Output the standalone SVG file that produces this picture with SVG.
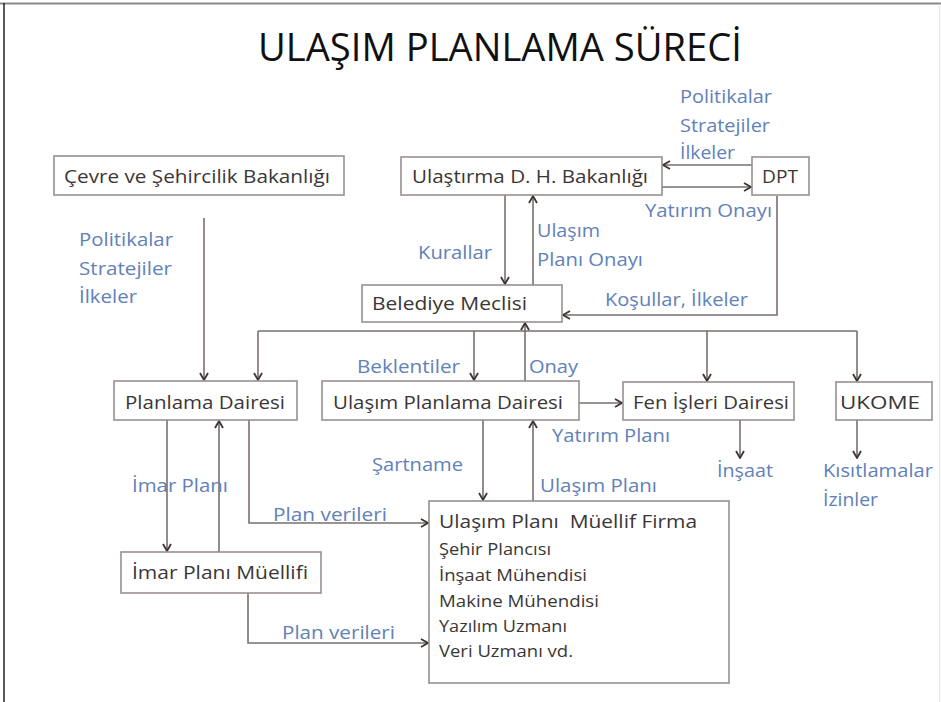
<svg xmlns="http://www.w3.org/2000/svg" width="941" height="702" viewBox="0 0 941 702">
<style>
.box{fill:#fff;stroke:#9a8f8f;stroke-width:1.6}
.nt{font-family:"Open Sans","Liberation Sans",sans-serif;font-size:17.5px;fill:#3a3636}
.st{font-family:"Open Sans","Liberation Sans",sans-serif;font-size:15.5px;fill:#3a3636}
.lb{font-family:"Open Sans","Liberation Sans",sans-serif;font-size:18px;fill:#6181b9}
.ln{fill:none;stroke:#7a6e6e;stroke-width:1.6}
.ar{marker-end:url(#ah)}
</style>
<defs>
<marker id="ah" viewBox="0 0 10 10" refX="9" refY="5" markerWidth="10" markerHeight="10" markerUnits="userSpaceOnUse" orient="auto">
<path d="M2,1 L9,5 L2,9" fill="none" stroke="#3d3535" stroke-width="1.8"/>
</marker>
</defs>
<rect width="941" height="702" fill="#fff"/>
<line x1="0" y1="3.5" x2="941" y2="3.5" stroke="#8a8a8a" stroke-width="2"/>
<line x1="4" y1="3" x2="4" y2="702" stroke="#222" stroke-width="1.5"/>
<line x1="939.5" y1="4" x2="939.5" y2="702" stroke="#e4e4e4" stroke-width="1"/>
<text x="258" y="61" font-family="Open Sans, Liberation Sans, sans-serif" font-size="38" fill="#111" textLength="484" lengthAdjust="spacingAndGlyphs">ULAŞIM PLANLAMA SÜRECİ</text>
<g id="connectors">
<line class="ln ar" x1="752" y1="165" x2="663" y2="165"/>
<line class="ln ar" x1="662" y1="187" x2="751" y2="187"/>
<polyline class="ln ar" points="777,196 777,315 563,315"/>
<line class="ln ar" x1="505" y1="195" x2="505" y2="284"/>
<line class="ln ar" x1="533" y1="285" x2="533" y2="196"/>
<line class="ln ar" x1="204" y1="218" x2="204" y2="380"/>
<polyline class="ln" points="258,331 857,331"/>
<line class="ln ar" x1="258" y1="331" x2="258" y2="380"/>
<line class="ln ar" x1="474" y1="331" x2="474" y2="380"/>
<line class="ln ar" x1="707" y1="331" x2="707" y2="381"/>
<line class="ln ar" x1="857" y1="331" x2="857" y2="381"/>
<line class="ln ar" x1="525" y1="381" x2="525" y2="323"/>
<line class="ln ar" x1="579" y1="403" x2="622" y2="403"/>
<line class="ln ar" x1="167" y1="420" x2="167" y2="551"/>
<line class="ln ar" x1="219" y1="552" x2="219" y2="421"/>
<polyline class="ln ar" points="249,420 249,523 428,523"/>
<polyline class="ln ar" points="248,593 248,643 428,643"/>
<line class="ln ar" x1="483" y1="420" x2="483" y2="500"/>
<line class="ln ar" x1="533" y1="501" x2="533" y2="421"/>
<line class="ln ar" x1="740" y1="420" x2="740" y2="458"/>
<line class="ln ar" x1="857" y1="420" x2="857" y2="458"/>
</g>
<g id="cevre"><rect class="box" x="54" y="156" width="290" height="39"/><text class="nt" x="64" y="183" textLength="266" lengthAdjust="spacingAndGlyphs">Çevre ve Şehircilik Bakanlığı</text></g>
<g id="ulastirma"><rect class="box" x="401" y="157" width="261" height="38"/><text class="nt" x="412" y="183" textLength="236" lengthAdjust="spacingAndGlyphs">Ulaştırma D. H. Bakanlığı</text></g>
<g id="dpt"><rect class="box" x="752" y="157" width="57" height="38"/><text class="nt" x="762" y="183" textLength="36" lengthAdjust="spacingAndGlyphs">DPT</text></g>
<g id="belediye"><rect class="box" x="362" y="285" width="200" height="37"/><text class="nt" x="372" y="310" textLength="155" lengthAdjust="spacingAndGlyphs">Belediye Meclisi</text></g>
<g id="planlama"><rect class="box" x="114" y="381" width="183" height="39"/><text class="nt" x="125" y="409" textLength="160" lengthAdjust="spacingAndGlyphs">Planlama Dairesi</text></g>
<g id="ulasimplanlama"><rect class="box" x="322" y="381" width="257" height="39"/><text class="nt" x="333" y="409" textLength="230" lengthAdjust="spacingAndGlyphs">Ulaşım Planlama Dairesi</text></g>
<g id="fen"><rect class="box" x="623" y="382" width="171" height="38"/><text class="nt" x="633" y="409" textLength="156" lengthAdjust="spacingAndGlyphs">Fen İşleri Dairesi</text></g>
<g id="ukome"><rect class="box" x="836" y="382" width="96" height="38"/><text class="nt" x="840" y="409" textLength="80" lengthAdjust="spacingAndGlyphs">UKOME</text></g>
<g id="imar"><rect class="box" x="121" y="552" width="200" height="41"/><text class="nt" x="132" y="579" textLength="176" lengthAdjust="spacingAndGlyphs">İmar Planı Müellifi</text></g>
<g id="firma"><rect class="box" x="429" y="501" width="300" height="182"/>
<text class="nt" x="439" y="528" font-size="19" textLength="258" lengthAdjust="spacingAndGlyphs" xml:space="preserve">Ulaşım Planı  Müellif Firma</text>
<text class="st" x="439" y="555" textLength="112" lengthAdjust="spacingAndGlyphs">Şehir Plancısı</text>
<text class="st" x="439" y="581" textLength="148" lengthAdjust="spacingAndGlyphs">İnşaat Mühendisi</text>
<text class="st" x="439" y="607" textLength="160" lengthAdjust="spacingAndGlyphs">Makine Mühendisi</text>
<text class="st" x="439" y="632" textLength="128" lengthAdjust="spacingAndGlyphs">Yazılım Uzmanı</text>
<text class="st" x="439" y="657" textLength="134" lengthAdjust="spacingAndGlyphs">Veri Uzmanı vd.</text>
</g>
<g id="labels">
<text class="lb" x="680" y="103" textLength="92" lengthAdjust="spacingAndGlyphs">Politikalar</text>
<text class="lb" x="680" y="132" textLength="90" lengthAdjust="spacingAndGlyphs">Stratejiler</text>
<text class="lb" x="680" y="159" textLength="55" lengthAdjust="spacingAndGlyphs">İlkeler</text>
<text class="lb" x="645" y="217" textLength="127" lengthAdjust="spacingAndGlyphs">Yatırım Onayı</text>
<text class="lb" x="418" y="259" textLength="74" lengthAdjust="spacingAndGlyphs">Kurallar</text>
<text class="lb" x="537" y="237" textLength="63" lengthAdjust="spacingAndGlyphs">Ulaşım</text>
<text class="lb" x="537" y="266" textLength="106" lengthAdjust="spacingAndGlyphs">Planı Onayı</text>
<text class="lb" x="605" y="306" textLength="143" lengthAdjust="spacingAndGlyphs">Koşullar, İlkeler</text>
<text class="lb" x="357" y="373" textLength="103" lengthAdjust="spacingAndGlyphs">Beklentiler</text>
<text class="lb" x="529" y="373" textLength="49" lengthAdjust="spacingAndGlyphs">Onay</text>
<text class="lb" x="79" y="246" textLength="94" lengthAdjust="spacingAndGlyphs">Politikalar</text>
<text class="lb" x="79" y="275" textLength="93" lengthAdjust="spacingAndGlyphs">Stratejiler</text>
<text class="lb" x="79" y="303" textLength="58" lengthAdjust="spacingAndGlyphs">İlkeler</text>
<text class="lb" x="552" y="442" textLength="118" lengthAdjust="spacingAndGlyphs">Yatırım Planı</text>
<text class="lb" x="372" y="471" textLength="91" lengthAdjust="spacingAndGlyphs">Şartname</text>
<text class="lb" x="540" y="492" textLength="117" lengthAdjust="spacingAndGlyphs">Ulaşım Planı</text>
<text class="lb" x="132" y="492" textLength="96" lengthAdjust="spacingAndGlyphs">İmar Planı</text>
<text class="lb" x="273" y="521" textLength="114" lengthAdjust="spacingAndGlyphs">Plan verileri</text>
<text class="lb" x="282" y="639" textLength="113" lengthAdjust="spacingAndGlyphs">Plan verileri</text>
<text class="lb" x="717" y="477" textLength="56" lengthAdjust="spacingAndGlyphs">İnşaat</text>
<text class="lb" x="823" y="477" textLength="110" lengthAdjust="spacingAndGlyphs">Kısıtlamalar</text>
<text class="lb" x="823" y="506" textLength="55" lengthAdjust="spacingAndGlyphs">İzinler</text>
</g>
</svg>
